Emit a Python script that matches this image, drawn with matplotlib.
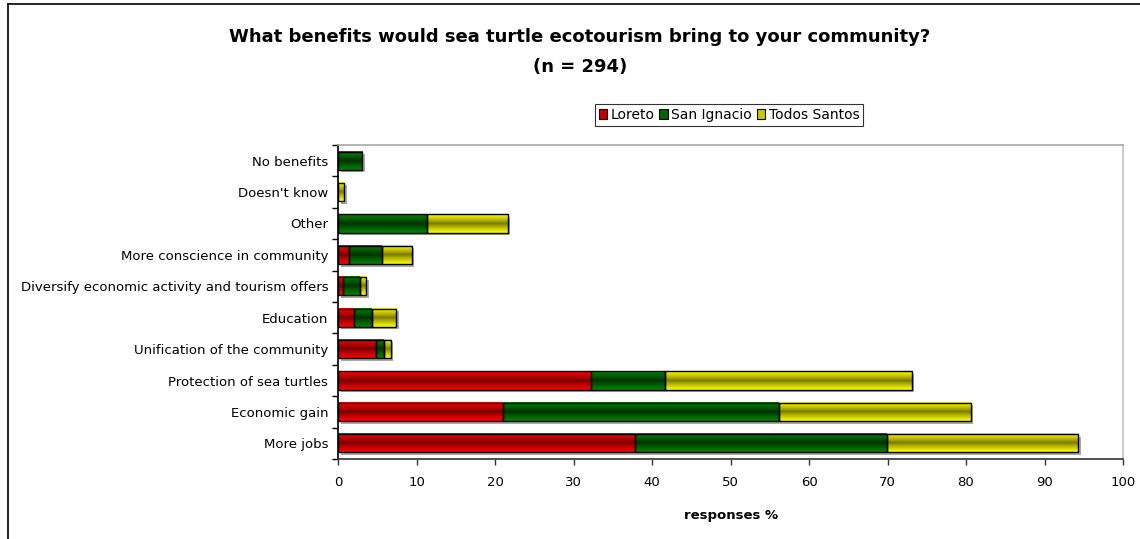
import numpy as np
import matplotlib
matplotlib.use("Agg")
import matplotlib.pyplot as plt
from matplotlib.patches import Rectangle
from matplotlib.lines import Line2D
from matplotlib.transforms import ScaledTranslation

# Survey answers (% of responses), listed bottom to top
categories = [
    "More jobs",
    "Economic gain",
    "Protection of sea turtles",
    "Unification of the community",
    "Education",
    "Diversify economic activity and tourism offers",
    "More conscience in community",
    "Other",
    "Doesn't know",
    "No benefits",
]
loreto = [37.8, 21.0, 32.2, 4.8, 2.0, 0.6, 1.4, 0.0, 0.0, 0.0]
san_ignacio = [32.1, 35.2, 9.4, 1.1, 2.3, 2.2, 4.2, 11.4, 0.0, 3.1]
todos_santos = [24.4, 24.4, 31.5, 0.8, 3.1, 0.8, 3.8, 10.2, 0.8, 0.0]

series_names = ["Loreto", "San Ignacio", "Todos Santos"]
x_ticks = [0, 10, 20, 30, 40, 50, 60, 70, 80, 90, 100]

# (bright edge colour, dark centre colour, legend swatch colour)
palette = [
    ("#ff0000", "#720000", "#c00000"),
    ("#008400", "#002c00", "#006400"),
    ("#ffff00", "#747400", "#c8c800"),
]

W, H, DPI = 1140, 539, 100
fig = plt.figure(figsize=(W / DPI, H / DPI), dpi=DPI)
fig.patch.set_facecolor("white")

ax = fig.add_axes([338 / W, 1 - 459 / H, (1123 - 338) / W, (459 - 145) / H])

bar_h = 0.58
y = np.arange(len(categories))


def gradient(bright, dark, n=64):
    b = np.array(matplotlib.colors.to_rgb(bright))
    d = np.array(matplotlib.colors.to_rgb(dark))
    t = np.abs(np.linspace(-1, 1, n)) ** 0.8
    rgb = d[None, :] + (b - d)[None, :] * t[:, None]
    return rgb[:, None, :]


shadow_tr = ax.transData + ScaledTranslation(2.5 / DPI, -2.5 / DPI, fig.dpi_scale_trans)

data = [loreto, san_ignacio, todos_santos]
totals = np.sum(data, axis=0)
for i in range(len(categories)):
    if totals[i] > 0:
        ax.add_patch(Rectangle((0, y[i] - bar_h / 2), totals[i], bar_h,
                               facecolor="#a8a8a8", edgecolor="none",
                               transform=shadow_tr, zorder=1))

left = np.zeros(len(categories))
for s, vals in enumerate(data):
    bright, dark, _ = palette[s]
    img = gradient(bright, dark)
    for i, v in enumerate(vals):
        if v <= 0:
            continue
        ax.imshow(img, extent=[left[i], left[i] + v, y[i] - bar_h / 2, y[i] + bar_h / 2],
                  aspect="auto", interpolation="bilinear", zorder=2)
        ax.add_patch(Rectangle((left[i], y[i] - bar_h / 2), v, bar_h,
                               facecolor="none", edgecolor="black", linewidth=1.0, zorder=3))
    left += np.array(vals)

ax.set_xlim(0, 100)
ax.set_ylim(-0.5, len(categories) - 0.5)
ax.set_xticks(x_ticks)
ax.set_xticklabels([str(t) for t in x_ticks], fontsize=9.5)
ax.set_yticks(y)
ax.set_yticklabels(categories, fontsize=9.5)
ax.set_yticks(np.arange(-0.5, len(categories), 1.0), minor=True)
ax.tick_params(axis="y", which="major", length=0, pad=7)
ax.tick_params(axis="y", which="minor", length=4, width=1, color="black", direction="out")
ax.tick_params(axis="x", which="major", length=4, width=1, color="#333333", direction="out", pad=8)

ax.spines["left"].set_color("black")
ax.spines["bottom"].set_color("#333333")
ax.spines["top"].set_color("#a8a8a8")
ax.spines["right"].set_color("#c0c0c0")
for sp in ax.spines.values():
    sp.set_linewidth(1.2)

fig.text(580 / W, 1 - 37 / H,
         "What benefits would sea turtle ecotourism bring to your community?",
         ha="center", va="center", fontsize=13, fontweight="bold")
fig.text(580 / W, 1 - 67 / H, "(n = 294)",
         ha="center", va="center", fontsize=13, fontweight="bold")
fig.text(731 / W, 1 - 515 / H, "responses %",
         ha="center", va="center", fontsize=9.5, fontweight="bold")

handles = [Rectangle((0, 0), 1, 1, facecolor=p[2], edgecolor="black", linewidth=0.8)
           for p in palette]
leg = fig.legend(handles, series_names, loc="center",
                 bbox_to_anchor=(729 / W, 1 - 115 / H), ncol=3, fontsize=10,
                 frameon=True, fancybox=False, edgecolor="black",
                 handlelength=0.6, handleheight=0.7, handletextpad=0.25,
                 columnspacing=0.35, borderpad=0.3, borderaxespad=0)
leg.get_frame().set_linewidth(0.8)

# outer chart frame (left and top edges)
fig.add_artist(Line2D([8 / W, 8 / W], [0, 1 - 4 / H], color="black", linewidth=1.2,
                      transform=fig.transFigure))
fig.add_artist(Line2D([8 / W, 1], [1 - 4 / H, 1 - 4 / H], color="black", linewidth=1.2,
                      transform=fig.transFigure))

fig.savefig("out.png", dpi=DPI)
